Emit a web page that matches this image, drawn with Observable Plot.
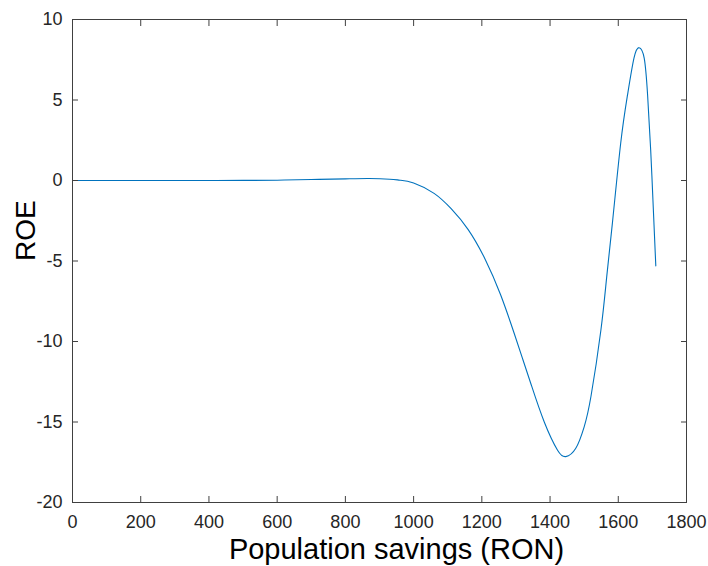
<!DOCTYPE html>
<html><head><meta charset="utf-8">
<script src="https://cdn.jsdelivr.net/npm/d3@7"></script>
<script src="https://cdn.jsdelivr.net/npm/@observablehq/plot@0.6"></script>
<style>body{margin:0;background:#fff;}</style>
</head><body><div id="chart"></div>
<script>
const savings = [0, 100, 200, 300, 400, 500, 600, 700, 800, 870, 930, 960, 1000, 1060, 1110, 1160, 1210, 1255, 1295, 1320, 1345, 1383, 1422, 1446, 1475, 1500, 1520, 1549, 1566, 1583, 1607, 1627, 1646, 1661, 1676, 1686, 1695, 1703, 1710];
const roe = [0, 0, 0, 0, 0, 0.005, 0.02, 0.06, 0.1, 0.12, 0.08, 0.02, -0.15, -0.8, -1.75, -3.05, -4.9, -7.1, -9.5, -11.1, -12.7, -15.0, -16.75, -17.15, -16.65, -15.3, -13.4, -9.3, -6.0, -2.6, 2.3, 5.3, 7.6, 8.25, 7.6, 5.3, 1.9, -1.9, -5.3];
const xTicks = [0, 200, 400, 600, 800, 1000, 1200, 1400, 1600, 1800];
const yTicks = [-20, -15, -10, -5, 0, 5, 10];
const xLabel = "Population savings (RON)";
const yLabel = "ROE";

const data = savings.map((s, i) => ({s, r: roe[i]}));
const axisColor = "#262626";
const blank = () => "";
const plain = d => String(d);

const chart = Plot.plot({
  width: 708, height: 566,
  marginLeft: 72, marginRight: 22, marginTop: 19, marginBottom: 64,
  style: {fontFamily: "'Liberation Sans', Arial, sans-serif", fontSize: "18px", color: axisColor, background: "#fff"},
  x: {domain: [0, 1800], label: null},
  y: {domain: [-20, 10], label: null},
  marks: [
    Plot.line(data, {x: "s", y: "r", stroke: "#0072BD", strokeWidth: 1.1, curve: "natural"}),
    Plot.frame({stroke: "#404040"}),
    Plot.axisX(xTicks, {anchor: "bottom", tickSize: -6, tickPadding: 19, tickFormat: plain, label: null, stroke: "#404040", fill: axisColor}),
    Plot.axisX(xTicks, {anchor: "top", tickSize: -6, tickFormat: blank, label: null, stroke: "#404040"}),
    Plot.axisY(yTicks, {anchor: "left", tickSize: -6, tickPadding: 16, tickFormat: plain, label: null, stroke: "#404040", fill: axisColor}),
    Plot.axisY(yTicks, {anchor: "right", tickSize: -6, tickFormat: blank, label: null, stroke: "#404040"}),
    Plot.text([xLabel], {frameAnchor: "bottom", dy: 47, dx: 17, fontSize: 29, lineAnchor: "middle", text: d => d, fill: "#000"}),
    Plot.text([yLabel], {frameAnchor: "left", rotate: -90, dx: -46, fontSize: 28, lineAnchor: "middle", text: d => d, fill: "#000"})
  ]
});
document.getElementById("chart").appendChild(chart);
</script>
</body></html>
